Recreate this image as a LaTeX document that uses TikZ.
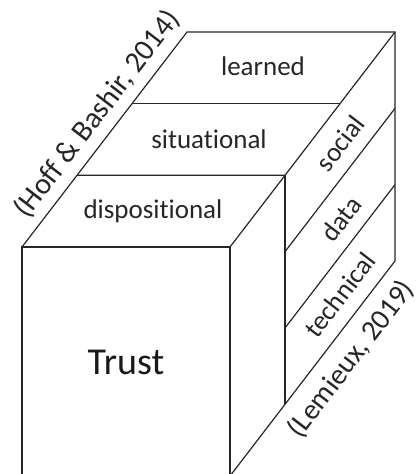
\documentclass[tikz,border=0pt]{standalone}
\usepackage{fontspec}
\setmainfont{Carlito}[Ligatures={NoCommon}]
\usetikzlibrary{calc}
\begin{document}
\begin{tikzpicture}[x=1pt,y=-1pt,
  edge/.style={line width=1.2pt,line join=miter,black!85},
  lbl/.style={font=\fontsize{27}{30}\selectfont,text=black!85,inner sep=0pt},
  cite/.style={font=\fontsize{30}{33}\selectfont,text=black!85,inner sep=0pt,rotate=52.5},
  big/.style={font=\fontsize{38}{41}\selectfont,text=black!90,inner sep=0pt}]
\useasboundingbox (0,0) rectangle (417,474);
% corners
\coordinate (FTL) at (22,247);
\coordinate (FTR) at (230,247);
\coordinate (FBL) at (22,476);
\coordinate (FBR) at (230,476);
\coordinate (BTL) at (187,32);
\coordinate (BTR) at (395,32);
\coordinate (BBR) at (395,261);
% top face divisions
\coordinate (TL1) at ($(BTL)!1/3!(FTL)$);
\coordinate (TR1) at ($(BTR)!1/3!(FTR)$);
\coordinate (TL2) at ($(BTL)!2/3!(FTL)$);
\coordinate (M1) at ($(FTR)!1/3!(BTR)$);
\coordinate (M2) at ($(FBR)!1/3!(BBR)$);
% right face divisions
\coordinate (S1) at ($(M1)!1/3!(M2)$);
\coordinate (S2) at ($(M1)!2/3!(M2)$);
\coordinate (R1) at ($(BTR)!1/3!(BBR)$);
\coordinate (R2) at ($(BTR)!2/3!(BBR)$);
% edges
\draw[edge] (FBL) -- (FTL) -- (FTR) -- (FBR);
\draw[edge] (FTL) -- (BTL) -- (BTR) -- (BBR) -- (FBR);
\draw[edge] (FTR) -- (BTR);
\draw[edge] (TL1) -- (TR1);
\draw[edge] (TL2) -- (M1);
\draw[edge] (M1) -- (M2);
\draw[edge] (S1) -- (R1);
\draw[edge] (S2) -- (R2);
% labels
\node[lbl] (learned) at (263,66) {learned};
\node[lbl] (situational) at (209,139) {situational};
\node[lbl] (dispositional) at (153,211) {dispositional};
\node[big] (trust) at (126,362) {Trust};
\node[lbl,rotate=52.5] (social) at (340,143) {social};
\node[lbl,rotate=52.5] (data) at (341,219) {data};
\node[lbl,rotate=52.5] (technical) at (340,295) {technical};
\node[cite] (hoff) at (97,114) {(Hoff \& Bashir, 2014)};
\node[cite,font=\fontsize{29}{32}\selectfont] (lemieux) at (351,359) {(Lemieux, 2019)};
\end{tikzpicture}
\end{document}
